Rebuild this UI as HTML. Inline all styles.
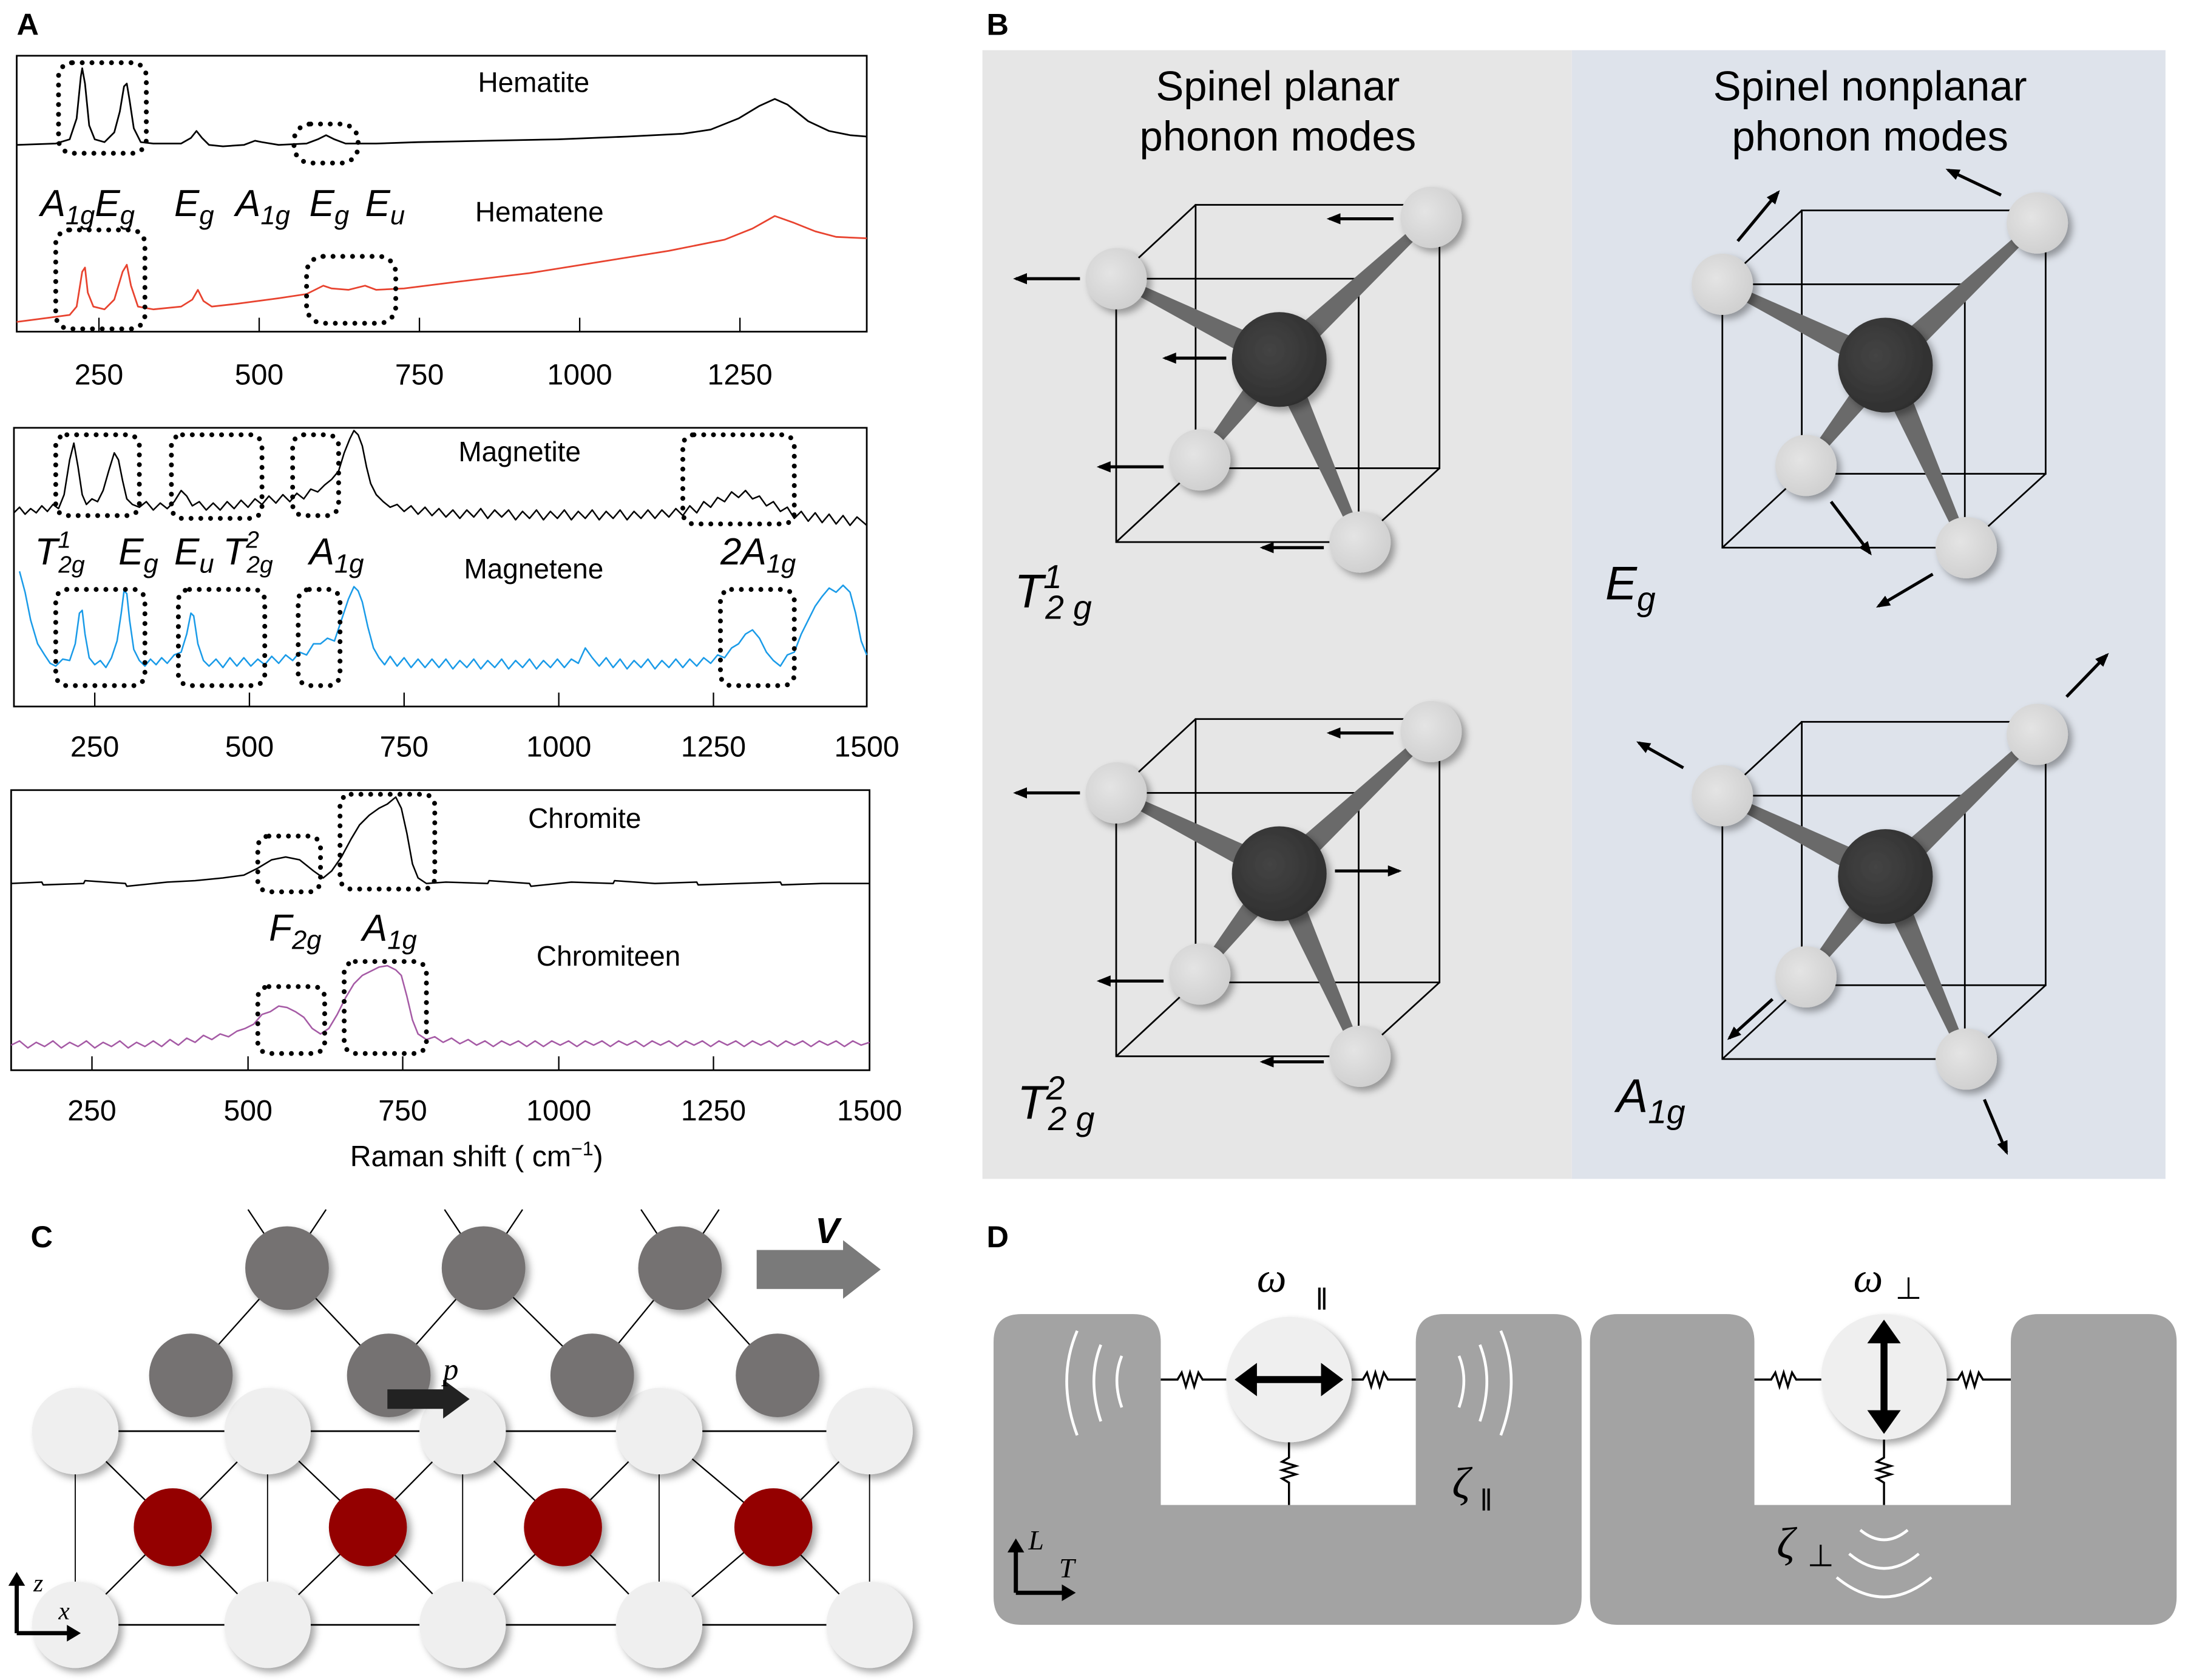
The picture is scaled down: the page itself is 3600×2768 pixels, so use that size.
<!DOCTYPE html>
<html><head><meta charset="utf-8">
<style>
html,body{margin:0;padding:0;background:#fff;}
svg{display:block;}
text{font-family:"Liberation Sans",sans-serif;}
.it{font-style:italic;}
.srf{font-family:"Liberation Serif",serif;font-style:italic;}
</style></head>
<body>
<svg xmlns="http://www.w3.org/2000/svg" xmlns:xlink="http://www.w3.org/1999/xlink" width="3600" height="2768" viewBox="0 0 1568 1205.6" preserveAspectRatio="none">
<defs>
<marker id="ah" markerWidth="10" markerHeight="8" refX="8" refY="4" orient="auto" markerUnits="userSpaceOnUse"><path d="M0,0 L10,4 L0,8 Z" fill="#000"/></marker>
<radialGradient id="gl" cx="0.4" cy="0.4" r="0.65"><stop offset="0" stop-color="#e4e4e4"/><stop offset="1" stop-color="#cfcfcf"/></radialGradient>
<radialGradient id="gd" cx="0.4" cy="0.4" r="0.65"><stop offset="0" stop-color="#444"/><stop offset="1" stop-color="#2e2e2e"/></radialGradient>
<filter id="sh" x="-30%" y="-30%" width="170%" height="170%"><feDropShadow dx="3" dy="3" stdDeviation="2.5" flood-color="#000" flood-opacity="0.35"/></filter>
<g id="cb">
<g fill="none" stroke="#000" stroke-width="1.2">
<rect x="858" y="147" width="175" height="189"/>
<rect x="801" y="200" width="174" height="189"/>
<path d="M858,147 L801,200 M1033,147 L975,200 M858,336 L801,389 M1033,336 L975,389"/>
</g>
<g fill="#6a6a6a">
<polygon points="922,250 802.3,197.3 799.7,202.7 914,266"/>
<polygon points="924.2,264.6 1029,158.2 1025,153.8 911.8,251.4"/>
<polygon points="911,252.4 858.7,328.1 863.3,331.9 925,263.6"/>
<polygon points="909.8,261.6 973.3,390.2 978.7,387.8 926.2,254.4"/>
</g>
<g fill="url(#gl)" filter="url(#sh)">
<circle cx="801" cy="200" r="22"/><circle cx="1027" cy="156" r="22"/><circle cx="861" cy="330" r="22"/><circle cx="976" cy="389" r="22"/>
</g>
<circle cx="918" cy="258" r="34" fill="url(#gd)" filter="url(#sh)"/>
</g>
</defs>

<text x="12" y="25" font-size="22" font-weight="bold">A</text>
<text x="708" y="25" font-size="22" font-weight="bold">B</text>
<text x="22" y="895" font-size="22" font-weight="bold">C</text>
<text x="708" y="895" font-size="22" font-weight="bold">D</text>

<rect x="12" y="40" width="610" height="198" fill="none" stroke="#000" stroke-width="1.2"/>
<rect x="10" y="307" width="612" height="200" fill="none" stroke="#000" stroke-width="1.2"/>
<rect x="8" y="567" width="616" height="201" fill="none" stroke="#000" stroke-width="1.2"/>
<g fill="none" stroke-width="1.2" stroke-linejoin="round">
<path stroke="#000" d="M12,104 L40,103 L50,100 L55,85 L58,55 L59,49 L61,60 L64,90 L68,100 L75,102 L82,95 L86,80 L89,62 L91,60 L93,72 L96,92 L101,102 L110,103 L130,103 L137,99 L141,94 L145,99 L150,104 L160,105 L175,104 L183,101 L188,102 L200,104 L220,103 L228,100 L234,97 L240,100 L248,103 L270,103 L300,102 L350,101 L400,100 L450,98 L490,96 L510,93 L530,85 L545,76 L556,71 L565,75 L580,87 L595,94 L610,97 L622,98"/>
<path stroke="#e8432f" d="M12,231 L35,228 L50,226 L55,220 L59,195 L61,192 L63,210 L67,220 L75,222 L82,215 L88,195 L91,190 L94,205 L99,220 L110,222 L130,220 L138,215 L142,208 L146,216 L152,220 L170,218 L200,214 L220,211 L232,205 L238,207 L250,208 L262,205 L270,208 L290,207 L330,202 L380,196 L430,188 L480,180 L520,172 L540,164 L556,155 L570,160 L585,166 L600,170 L622,171"/>
<path stroke="#000" stroke-width="1.1" d="M10,368 L14,364 L18,369 L22,365 L26,368 L30,363 L34,367 L38,362 L42,365 L46,355 L50,330 L53,318 L56,335 L59,355 L62,362 L66,358 L70,360 L74,352 L78,338 L82,325 L85,330 L88,345 L91,358 L95,362 L100,364 L105,360 L110,366 L115,361 L120,365 L125,360 L130,352 L134,356 L138,363 L143,360 L148,366 L153,361 L158,366 L163,360 L168,365 L173,359 L178,364 L183,358 L188,362 L193,356 L198,361 L203,355 L208,360 L213,354 L218,358 L223,351 L228,353 L233,348 L238,344 L243,338 L247,325 L251,315 L254,309 L257,312 L260,320 L263,335 L266,347 L270,355 L275,360 L280,364 L285,362 L290,367 L295,363 L300,369 L305,364 L310,370 L315,365 L320,371 L325,366 L330,372 L335,366 L340,371 L345,365 L350,372 L355,366 L360,371 L365,366 L370,373 L375,367 L380,372 L385,366 L390,373 L395,367 L400,372 L405,366 L410,373 L415,367 L420,372 L425,366 L430,373 L435,367 L440,372 L445,366 L450,373 L455,367 L460,372 L465,366 L470,372 L475,366 L480,371 L485,365 L490,370 L495,363 L500,368 L505,360 L510,364 L515,357 L520,360 L525,353 L530,357 L535,352 L540,358 L545,356 L550,363 L555,360 L560,367 L565,364 L570,372 L575,367 L580,374 L585,368 L590,375 L595,369 L600,376 L605,370 L610,377 L615,371 L622,377"/>
<path stroke="#1a9be8" stroke-width="1.1" d="M14,410 L18,425 L22,445 L27,462 L32,470 L36,476 L40,478 L45,473 L50,474 L54,462 L57,440 L59,438 L61,455 L64,472 L68,477 L72,474 L76,479 L80,472 L84,460 L87,440 L89,424 L91,426 L93,445 L96,466 L100,474 L104,478 L108,473 L112,477 L116,472 L120,476 L125,470 L130,468 L134,455 L137,440 L139,442 L142,462 L146,474 L150,478 L155,473 L160,479 L165,472 L170,478 L175,472 L180,478 L185,473 L190,477 L195,471 L200,476 L205,470 L210,474 L215,468 L220,470 L225,462 L230,462 L235,458 L240,460 L245,445 L250,430 L254,421 L257,424 L260,432 L264,450 L268,465 L272,472 L276,477 L280,471 L285,478 L290,472 L295,479 L300,473 L305,479 L310,473 L315,479 L320,473 L325,480 L330,474 L335,479 L340,473 L345,480 L350,474 L355,479 L360,473 L365,480 L370,474 L375,479 L380,473 L385,480 L390,474 L395,479 L400,473 L405,479 L410,473 L415,476 L420,465 L425,472 L430,478 L435,472 L440,479 L445,473 L450,480 L455,474 L460,479 L465,473 L470,480 L475,474 L480,479 L485,473 L490,479 L495,473 L500,478 L505,472 L510,476 L515,470 L520,472 L525,465 L530,462 L535,455 L540,452 L545,458 L550,468 L555,474 L560,478 L565,470 L570,468 L575,455 L580,445 L585,435 L590,428 L595,422 L600,425 L605,420 L610,425 L614,440 L618,460 L622,470"/>
<path stroke="#000" stroke-width="1.1" d="M8,634 L30,633 L31,635 L60,634 L61,632 L90,634 L91,636 L120,633 L140,632 L160,630 L175,628 L185,623 L195,617 L205,615 L215,617 L225,625 L232,630 L238,625 L245,615 L252,602 L258,592 L265,585 L272,580 L278,577 L284,572 L288,580 L292,598 L296,620 L300,630 L306,634 L320,633 L350,634 L351,632 L380,634 L381,636 L410,633 L440,634 L441,632 L470,634 L500,633 L501,635 L530,634 L560,633 L561,635 L590,634 L624,634"/>
<path stroke="#a55aa5" stroke-width="1.1" d="M8,750 L14,747 L20,752 L26,748 L32,751 L38,747 L44,752 L50,748 L56,751 L62,747 L68,752 L74,748 L80,751 L86,747 L92,752 L98,748 L104,751 L110,747 L116,751 L122,746 L128,750 L134,745 L140,748 L146,743 L152,746 L158,742 L164,744 L170,740 L176,738 L182,735 L188,728 L194,726 L200,722 L206,723 L212,726 L218,730 L224,738 L230,742 L236,738 L242,728 L248,716 L254,706 L260,700 L266,697 L272,694 L278,693 L284,696 L288,700 L292,715 L296,732 L300,742 L306,746 L312,744 L318,748 L324,745 L330,749 L336,746 L342,750 L348,747 L354,751 L360,747 L366,750 L372,747 L378,751 L384,747 L390,751 L396,747 L402,750 L408,747 L414,751 L420,747 L426,750 L432,747 L438,751 L444,747 L450,750 L456,747 L462,751 L468,747 L474,750 L480,747 L486,751 L492,747 L498,750 L504,747 L510,751 L516,747 L522,750 L528,747 L534,751 L540,747 L546,750 L552,747 L558,751 L564,747 L570,750 L576,747 L582,751 L588,747 L594,750 L600,747 L606,751 L612,747 L618,750 L624,748"/>
</g>
<g stroke="#000" stroke-width="1">
<path d="M71,238 V228 M186,238 V228 M301,238 V228 M416,238 V228 M531,238 V228"/>
<path d="M68,507 V497 M179,507 V497 M290,507 V497 M401,507 V497 M512,507 V497"/>
<path d="M66,768 V758 M178,768 V758 M289,768 V758 M401,768 V758 M512,768 V758"/>
</g>
<g font-size="21" text-anchor="middle" fill="#000">
<text x="71" y="276">250</text><text x="186" y="276">500</text><text x="301" y="276">750</text><text x="416" y="276">1000</text><text x="531" y="276">1250</text>
<text x="68" y="543">250</text><text x="179" y="543">500</text><text x="290" y="543">750</text><text x="401" y="543">1000</text><text x="512" y="543">1250</text><text x="622" y="543">1500</text>
<text x="66" y="804">250</text><text x="178" y="804">500</text><text x="289" y="804">750</text><text x="401" y="804">1000</text><text x="512" y="804">1250</text><text x="624" y="804">1500</text>
<text x="342" y="837">Raman shift ( cm<tspan font-size="14" dy="-8">−1</tspan><tspan dy="8">)</tspan></text>
</g>
<g font-size="20">
<text x="343" y="66">Hematite</text><text x="341" y="159">Hematene</text>
<text x="329" y="331">Magnetite</text><text x="333" y="415">Magnetene</text>
<text x="379" y="594">Chromite</text><text x="385" y="693">Chromiteen</text>
</g>
<g font-size="27" class="it">
<text x="29" y="155">A<tspan font-size="19" dy="6">1g</tspan><tspan dy="-6">E</tspan><tspan font-size="19" dy="6">g</tspan></text>
<text x="125" y="155">E<tspan font-size="19" dy="6">g</tspan></text>
<text x="169" y="155">A<tspan font-size="19" dy="6">1g</tspan></text>
<text x="222" y="155">E<tspan font-size="19" dy="6">g</tspan></text>
<text x="262" y="155">E<tspan font-size="19" dy="6">u</tspan></text>
<text x="25" y="405">T<tspan font-size="17" dy="-12">1</tspan><tspan font-size="17" dx="-9" dy="18">2g</tspan></text>
<text x="85" y="405">E<tspan font-size="19" dy="6">g</tspan></text>
<text x="125" y="405">E<tspan font-size="19" dy="6">u</tspan></text>
<text x="160" y="405">T<tspan font-size="17" dy="-12">2</tspan><tspan font-size="17" dx="-9" dy="18">2g</tspan></text>
<text x="222" y="405">A<tspan font-size="19" dy="6">1g</tspan></text>
<text x="517" y="405">2A<tspan font-size="19" dy="6">1g</tspan></text>
<text x="193" y="675">F<tspan font-size="19" dy="6">2g</tspan></text>
<text x="260" y="675">A<tspan font-size="19" dy="6">1g</tspan></text>
</g>
<g fill="none" stroke="#000" stroke-width="3.5" stroke-dasharray="0 7" stroke-linecap="round">
<rect x="42" y="45" width="63" height="65" rx="10"/>
<rect x="211" y="89" width="46" height="28" rx="12"/>
<rect x="40" y="165" width="64" height="71" rx="10"/>
<rect x="220" y="184" width="64" height="48" rx="12"/>
<rect x="40" y="312" width="60" height="58" rx="8"/>
<rect x="123" y="312" width="65" height="60" rx="8"/>
<rect x="210" y="312" width="33" height="58" rx="8"/>
<rect x="490" y="312" width="80" height="64" rx="8"/>
<rect x="40" y="423" width="64" height="69" rx="8"/>
<rect x="128" y="423" width="62" height="69" rx="8"/>
<rect x="214" y="423" width="30" height="69" rx="8"/>
<rect x="517" y="423" width="53" height="69" rx="8"/>
<rect x="185" y="600" width="45" height="40" rx="8"/>
<rect x="244" y="570" width="68" height="68" rx="8"/>
<rect x="185" y="708" width="48" height="48" rx="8"/>
<rect x="247" y="690" width="59" height="66" rx="8"/>
</g>

<rect x="705" y="36" width="423" height="810" fill="#e6e6e6"/>
<rect x="1128" y="36" width="426" height="810" fill="#dee3eb"/>
<g font-size="30" text-anchor="middle">
<text x="917" y="72">Spinel planar</text><text x="917" y="108">phonon modes</text>
<text x="1342" y="72">Spinel nonplanar</text><text x="1342" y="108">phonon modes</text>
</g>
<use href="#cb" xlink:href="#cb"/>
<use href="#cb" xlink:href="#cb" transform="translate(0,369)"/>
<use href="#cb" xlink:href="#cb" transform="translate(435,4)"/>
<use href="#cb" xlink:href="#cb" transform="translate(435,371)"/>
<g stroke="#000" stroke-width="2.2" marker-end="url(#ah)">
<line x1="775" y1="200" x2="729" y2="200"/><line x1="1000" y1="157" x2="954" y2="157"/><line x1="880" y1="257" x2="836" y2="257"/><line x1="835" y1="335" x2="789" y2="335"/><line x1="950" y1="393" x2="906" y2="393"/>
<line x1="775" y1="569" x2="729" y2="569"/><line x1="1000" y1="526" x2="954" y2="526"/><line x1="958" y1="625" x2="1004" y2="625"/><line x1="835" y1="704" x2="789" y2="704"/><line x1="950" y1="762" x2="906" y2="762"/>
<line x1="1247" y1="173" x2="1276" y2="138"/><line x1="1436" y1="140" x2="1398" y2="122"/><line x1="1314" y1="360" x2="1342" y2="397"/><line x1="1387" y1="412" x2="1348" y2="435"/>
<line x1="1208" y1="551" x2="1176" y2="533"/><line x1="1483" y1="500" x2="1512" y2="470"/><line x1="1272" y1="717" x2="1241" y2="745"/><line x1="1424" y1="789" x2="1440" y2="827"/>
</g>
<g font-size="34" class="srf">
<text x="728" y="436">T<tspan font-size="24" dy="-14">1</tspan><tspan font-size="24" dx="-12" dy="22">2 g</tspan></text>
<text x="730" y="803">T<tspan font-size="24" dy="-14">2</tspan><tspan font-size="24" dx="-12" dy="22">2 g</tspan></text>
<text x="1152" y="430">E<tspan font-size="24" dy="8">g</tspan></text>
<text x="1160" y="798">A<tspan font-size="24" dy="8">1g</tspan></text>
</g>

<g stroke="#000" stroke-width="1" fill="none">
<path d="M206,910 L178,868 M206,910 L234,868 M347,910 L319,868 M347,910 L375,868 M488,910 L460,868 M488,910 L516,868"/>
<path d="M206,910 L137,987 M206,910 L279,987 M347,910 L279,987 M347,910 L425,987 M488,910 L425,987 M488,910 L558,987"/>
<path d="M54,1027 H624 M54,1166 H624" stroke-width="1.2"/>
<path d="M54,1027 V1166 M192,1027 V1166 M332,1027 V1166 M473,1027 V1166 M624,1027 V1166" stroke-width="0.8"/>
<path d="M54,1027 L124,1096 L192,1027 M54,1166 L124,1096 L192,1166 M192,1027 L264,1096 L332,1027 M192,1166 L264,1096 L332,1166 M332,1027 L404,1096 L473,1027 M332,1166 L404,1096 L473,1166 M473,1027 L555,1096 L624,1027 M473,1166 L555,1096 L624,1166"/>
</g>
<g fill="#efefef" filter="url(#sh)">
<circle cx="54" cy="1027" r="31"/><circle cx="192" cy="1027" r="31"/><circle cx="332" cy="1027" r="31"/><circle cx="473" cy="1027" r="31"/><circle cx="624" cy="1027" r="31"/>
<circle cx="54" cy="1166" r="31"/><circle cx="192" cy="1166" r="31"/><circle cx="332" cy="1166" r="31"/><circle cx="473" cy="1166" r="31"/><circle cx="624" cy="1166" r="31"/>
</g>
<g fill="#940000" filter="url(#sh)">
<circle cx="124" cy="1096" r="28"/><circle cx="264" cy="1096" r="28"/><circle cx="404" cy="1096" r="28"/><circle cx="555" cy="1096" r="28"/>
</g>
<g fill="#747272" filter="url(#sh)">
<circle cx="206" cy="910" r="30"/><circle cx="347" cy="910" r="30"/><circle cx="488" cy="910" r="30"/>
<circle cx="137" cy="987" r="30"/><circle cx="279" cy="987" r="30"/><circle cx="425" cy="987" r="30"/><circle cx="558" cy="987" r="30"/>
</g>
<polygon points="543,897 605,897 605,890 632,911 605,932 605,925 543,925" fill="#7a7a7a"/>
<text x="585" y="892" font-size="26" font-weight="bold" class="it">V</text>
<polygon points="278,997 318,997 318,990 337,1004 318,1018 318,1011 278,1011" fill="#222"/>
<text x="318" y="990" font-size="22" class="srf">p</text>
<g stroke="#000" stroke-width="3" fill="none">
<path d="M12,1172 L12,1133"/><path d="M12,1172 L52,1172"/>
</g>
<polygon points="6,1138 12,1128 18,1138" fill="#000"/>
<polygon points="48,1166 58,1172 48,1178" fill="#000"/>
<text x="24" y="1142" font-size="18" class="srf">z</text>
<text x="42" y="1162" font-size="18" class="srf">x</text>

<path d="M733,943 H813 Q833,943 833,963 V1080 H1016 V963 Q1016,943 1036,943 H1115 Q1135,943 1135,963 V1146 Q1135,1166 1115,1166 H733 Q713,1166 713,1146 V963 Q713,943 733,943 Z" fill="#a3a3a3"/>
<path d="M1161,943 H1239 Q1259,943 1259,963 V1080 H1443 V963 Q1443,943 1463,943 H1542 Q1562,943 1562,963 V1146 Q1562,1166 1542,1166 H1161 Q1141,1166 1141,1146 V963 Q1141,943 1161,943 Z" fill="#a3a3a3"/>
<g stroke="#000" stroke-width="1.5" fill="none">
<path d="M833,990 H845 l3,-5 l3,10 l3,-10 l3,10 l3,-10 l3,5 H880"/>
<path d="M970,990 H978 l3,-5 l3,10 l3,-10 l3,10 l3,-10 l3,5 H1016"/>
<path d="M925,1035 V1046 l-5,3 l10,3 l-10,3 l10,3 l-10,3 l5,3 V1080"/>
<path d="M1259,990 H1271 l3,-5 l3,10 l3,-10 l3,10 l3,-10 l3,5 H1307"/>
<path d="M1397,990 H1405 l3,-5 l3,10 l3,-10 l3,10 l3,-10 l3,5 H1443"/>
<path d="M1352,1033 V1046 l-5,3 l10,3 l-10,3 l10,3 l-10,3 l5,3 V1080"/>
</g>
<circle cx="925" cy="990" r="45" fill="#efefef" filter="url(#sh)"/>
<circle cx="1352" cy="988" r="45" fill="#efefef" filter="url(#sh)"/>
<g stroke="#000" stroke-width="5"><path d="M898,990 H952"/><path d="M1352,962 V1014"/></g>
<polygon points="886,990 902,978 902,1002" fill="#000"/><polygon points="964,990 948,978 948,1002" fill="#000"/>
<polygon points="1352,947 1340,964 1364,964" fill="#000"/><polygon points="1352,1029 1340,1012 1364,1012" fill="#000"/>
<g stroke="#fff" stroke-width="2" fill="none">
<path d="M773,955 Q758,990 773,1030"/><path d="M790,965 Q780,990 790,1020"/><path d="M805,973 Q798,990 805,1010"/>
<path d="M1077,955 Q1092,990 1077,1030"/><path d="M1062,965 Q1072,990 1062,1020"/><path d="M1047,973 Q1054,990 1047,1010"/>
<path d="M1335,1098 Q1352,1112 1369,1098"/><path d="M1327,1115 Q1352,1136 1377,1115"/><path d="M1318,1132 Q1352,1160 1386,1132"/>
</g>
<text x="902" y="927" font-size="30" class="srf">ω</text><text x="944" y="940" font-size="22">‖</text>
<text x="1330" y="927" font-size="30" class="srf">ω</text><text x="1360" y="932" font-size="22">⊥</text>
<text x="1042" y="1075" font-size="32" class="srf">ζ</text><text x="1062" y="1084" font-size="22">‖</text>
<text x="1275" y="1118" font-size="32" class="srf">ζ</text><text x="1297" y="1124" font-size="22">⊥</text>
<g stroke="#000" stroke-width="3" fill="none"><path d="M729,1143 V1110"/><path d="M729,1143 H765"/></g>
<polygon points="723,1114 729,1104 735,1114" fill="#000"/><polygon points="762,1137 772,1143 762,1149" fill="#000"/>
<text x="738" y="1112" font-size="20" class="srf">L</text><text x="760" y="1132" font-size="20" class="srf">T</text>
</svg>
</body></html>
